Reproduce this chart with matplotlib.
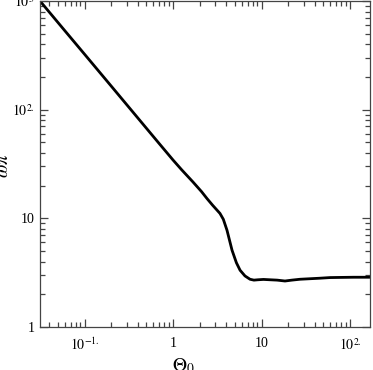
import numpy as np
import matplotlib
matplotlib.use("Agg")
import matplotlib.pyplot as plt
from matplotlib.ticker import FixedLocator, FixedFormatter, LogLocator, NullFormatter

plt.rcParams['font.family'] = ['Liberation Serif', 'DejaVu Serif']
plt.rcParams['mathtext.fontset'] = 'stix'

# values
theta0 = [0.0314, 0.06, 0.10, 0.2, 0.4, 0.7, 1.0, 1.25, 1.68, 2.1, 2.42, 2.8,
          3.39, 3.7, 4.07, 4.64, 5.2, 5.72, 6.5, 7.41, 8.2, 9.1, 10.5,
          12.5, 15.0, 18.4, 22.0, 27.2, 35.0, 45.0, 59.4, 80.0, 110.0, 168.0]
omega_pi = [1000, 532, 324, 165, 83.9, 48.6, 34.4, 28.0, 21.6, 17.6, 15.2, 13.2,
            11.1, 9.8, 7.77, 5.09, 3.9, 3.33, 2.95, 2.75, 2.70, 2.72, 2.74,
            2.72, 2.70, 2.65, 2.70, 2.75, 2.78, 2.81, 2.85, 2.86, 2.87, 2.87]

x_ticks = [0.1, 1, 10, 100]
x_labels = [r'$10^{-1.}$', '1', '10', r'$10^{2.}$']
y_ticks = [1, 10, 100, 1000]
y_labels = ['1', '10', r'$10^{2.}$', r'$10^{3}$']

fig = plt.figure(figsize=(3.73, 3.70), dpi=100)
ax = fig.add_axes([40 / 373, 43 / 370, 330 / 373, 326 / 370])

ax.plot(theta0, omega_pi, color='black', lw=2.0,
        solid_joinstyle='round', solid_capstyle='butt')

ax.set_xscale('log')
ax.set_yscale('log')
ax.set_xlim(0.0314, 168)
ax.set_ylim(1, 1000)

ax.xaxis.set_major_locator(FixedLocator(x_ticks))
ax.xaxis.set_major_formatter(FixedFormatter(x_labels))
ax.yaxis.set_major_locator(FixedLocator(y_ticks))
ax.yaxis.set_major_formatter(FixedFormatter(y_labels))
ax.xaxis.set_minor_locator(LogLocator(base=10, subs=np.arange(2, 10)))
ax.yaxis.set_minor_locator(LogLocator(base=10, subs=np.arange(2, 10)))
ax.xaxis.set_minor_formatter(NullFormatter())
ax.yaxis.set_minor_formatter(NullFormatter())

ax.tick_params(which='both', direction='in', top=True, right=True,
               color='#444444', width=0.9)
ax.tick_params(which='major', length=6)
ax.tick_params(which='minor', length=3.5)
ax.tick_params(axis='x', which='major', pad=7, labelsize=10)
ax.tick_params(axis='y', which='major', pad=4, labelsize=10)
for s in ax.spines.values():
    s.set_color('#444444')
    s.set_linewidth(0.9)

fig.text(3 / 373, 1 - 165 / 370, r'$\omega\pi$', rotation=90,
         ha='center', va='center', fontsize=14)
fig.text(183 / 373, 1 - 366 / 370, r'$\Theta_0$',
         ha='center', va='center', fontsize=14)

fig.savefig('out.png', dpi=100)
